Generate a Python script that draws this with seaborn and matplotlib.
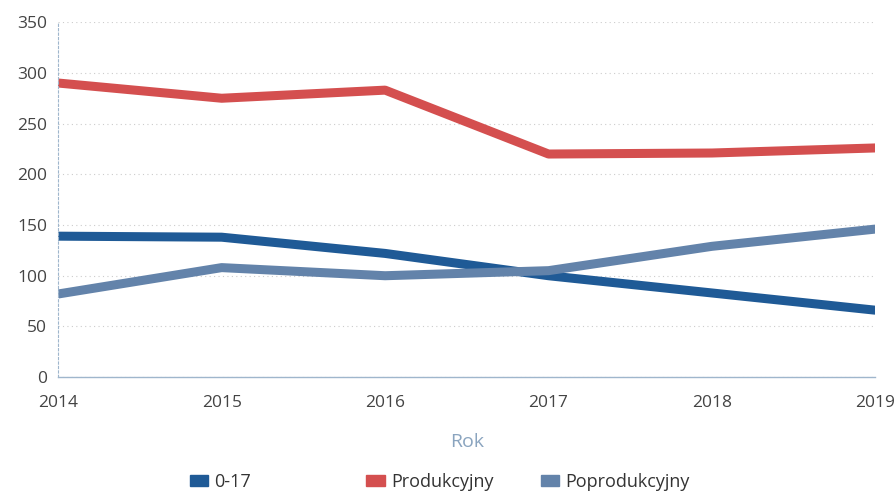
import matplotlib
matplotlib.use("Agg")
import matplotlib.pyplot as plt
import seaborn as sns
import pandas as pd
from matplotlib.patches import Patch

years = [2014, 2015, 2016, 2017, 2018, 2019]
grp_0_17 = [139, 138, 122, 100, 83, 66]
produkcyjny = [290, 275, 283, 220, 221, 226]
poprodukcyjny = [82, 108, 100, 105, 129, 146]
series_names = ["0-17", "Produkcyjny", "Poprodukcyjny"]
colors = ["#1f5a96", "#d44f4f", "#6383aa"]

df = pd.DataFrame({"Rok": years, "0-17": grp_0_17,
                   "Produkcyjny": produkcyjny, "Poprodukcyjny": poprodukcyjny})
long = df.melt(id_vars="Rok", var_name="Grupa", value_name="Wartość")

sns.set_style("white")
plt.rcParams['font.family'] = ['Open Sans', 'DejaVu Sans']

fig = plt.figure(figsize=(8.96, 4.93), dpi=100)
ax = fig.add_axes([0.065, 0.235, 0.912, 0.72])

sns.lineplot(data=long, x="Rok", y="Wartość", hue="Grupa", hue_order=series_names,
             palette=colors, linewidth=6.5, ax=ax, legend=False, solid_capstyle="butt")

ax.set_xlim(2014, 2019)
ax.set_ylim(0, 350)
ax.set_xticks(years)
ax.set_yticks(range(0, 351, 50))
ax.yaxis.grid(True, linestyle=(0, (1, 3)), color="#cccccc", linewidth=0.8)
ax.xaxis.grid(False)
for s in ["top", "right"]:
    ax.spines[s].set_visible(False)
ax.spines["left"].set_color("#9fb6cc")
ax.spines["left"].set_linestyle((0, (2, 2)))
ax.spines["left"].set_linewidth(0.8)
ax.spines["bottom"].set_color("#9fb6cc")
ax.spines["bottom"].set_linewidth(1.0)
ax.tick_params(axis="y", length=0, labelsize=12.5, colors="#444444", pad=8)
ax.tick_params(axis="x", length=0, labelsize=12.5, colors="#444444", pad=13)
ax.set_ylabel("")
ax.set_xlabel("Rok", fontsize=14, color="#8aa4bf", labelpad=16)

legend_x = [0.212, 0.409, 0.604]
for name, c, lx in zip(series_names, colors, legend_x):
    fig.legend([Patch(facecolor=c, edgecolor=c)], [name], loc="center left",
               bbox_to_anchor=(lx, 0.022), frameon=False, fontsize=13,
               handlelength=1.0, handleheight=0.55, handletextpad=0.35,
               labelcolor="#333333", borderaxespad=0, borderpad=0)

fig.savefig("out.png", dpi=100)
